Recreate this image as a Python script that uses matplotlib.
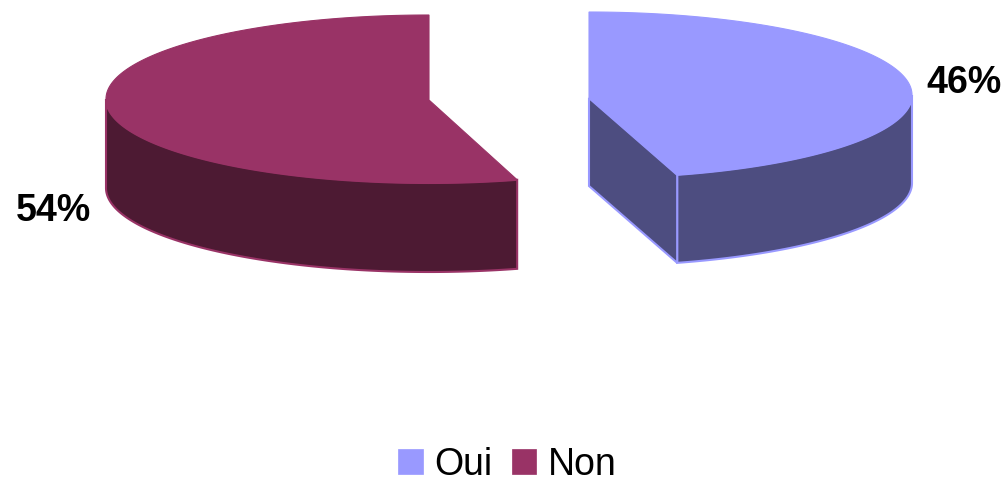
import numpy as np
import matplotlib
matplotlib.use('Agg')
import matplotlib.pyplot as plt
from matplotlib.patches import Patch, Polygon

plt.rcParams['font.family'] = ['Liberation Sans', 'DejaVu Sans']

categories = ['Oui', 'Non']
shares = [45.6, 54.4]
top_colors = ['#9999FF', '#993366']
side_colors = ['#4D4D80', '#4D1A33']

# pie geometry in pixels (image coordinates, y goes down)
centers = [(589, 95), (429, 99)]
apexes = [(589, 98), (429, 100)]
rx = 323
rys = [83, 84]
depths = [88, 89]
label_pos = [(964, 83), (53, 211)]

fig = plt.figure(figsize=(10.05, 4.78), dpi=100)
ax = fig.add_axes([0, 0, 1, 1])
ax.set_xlim(0, 1005)
ax.set_ylim(478, 0)
ax.axis('off')


def rim(center, ry, a0, a1):
    # a is degrees clockwise from 12 o'clock
    t = np.radians(np.linspace(a0, a1, 240))
    return np.column_stack([center[0] + rx * np.sin(t), center[1] - ry * np.cos(t)])


split = 360 * shares[0] / sum(shares)
ranges = [(0, split), (split, 360)]

for i in range(2):
    c, ry, d, apex = centers[i], rys[i], depths[i], apexes[i]
    a0, a1 = ranges[i]
    arc = rim(c, ry, a0, a1)

    # outer wall: only the part facing the viewer
    vis = rim(c, ry, max(a0, 90), min(a1, 270))
    wall = np.vstack([vis, (vis + [0, d])[::-1]])
    ax.add_patch(Polygon(wall, closed=True, fc=side_colors[i], ec=top_colors[i], lw=1.5, zorder=2))

    # cut face of the right slice is the only one seen
    if i == 0:
        tip = arc[-1]
        face = [apex, tip, tip + [0, d], (apex[0], apex[1] + d)]
        ax.add_patch(Polygon(face, closed=True, fc=side_colors[i], ec=top_colors[i], lw=1.5, zorder=3))

    top = np.vstack([[apex], arc])
    ax.add_patch(Polygon(top, closed=True, fc=top_colors[i], ec=top_colors[i], lw=0.8, zorder=4))

    ax.text(label_pos[i][0], label_pos[i][1], f'{round(shares[i])}%', fontsize=27, fontweight='bold',
            ha='center', va='center', color='black', zorder=5)

handles = [Patch(fc=col, ec=col, lw=0.5) for col in top_colors]
ax.legend(handles, categories, loc='center', bbox_to_anchor=(507.5, 465), bbox_transform=ax.transData,
          ncol=2, frameon=False, fontsize=27, handlelength=0.66, handleheight=0.66,
          handletextpad=0.32, columnspacing=0.5, borderpad=0, borderaxespad=0)

fig.savefig('out.png', dpi=100)
